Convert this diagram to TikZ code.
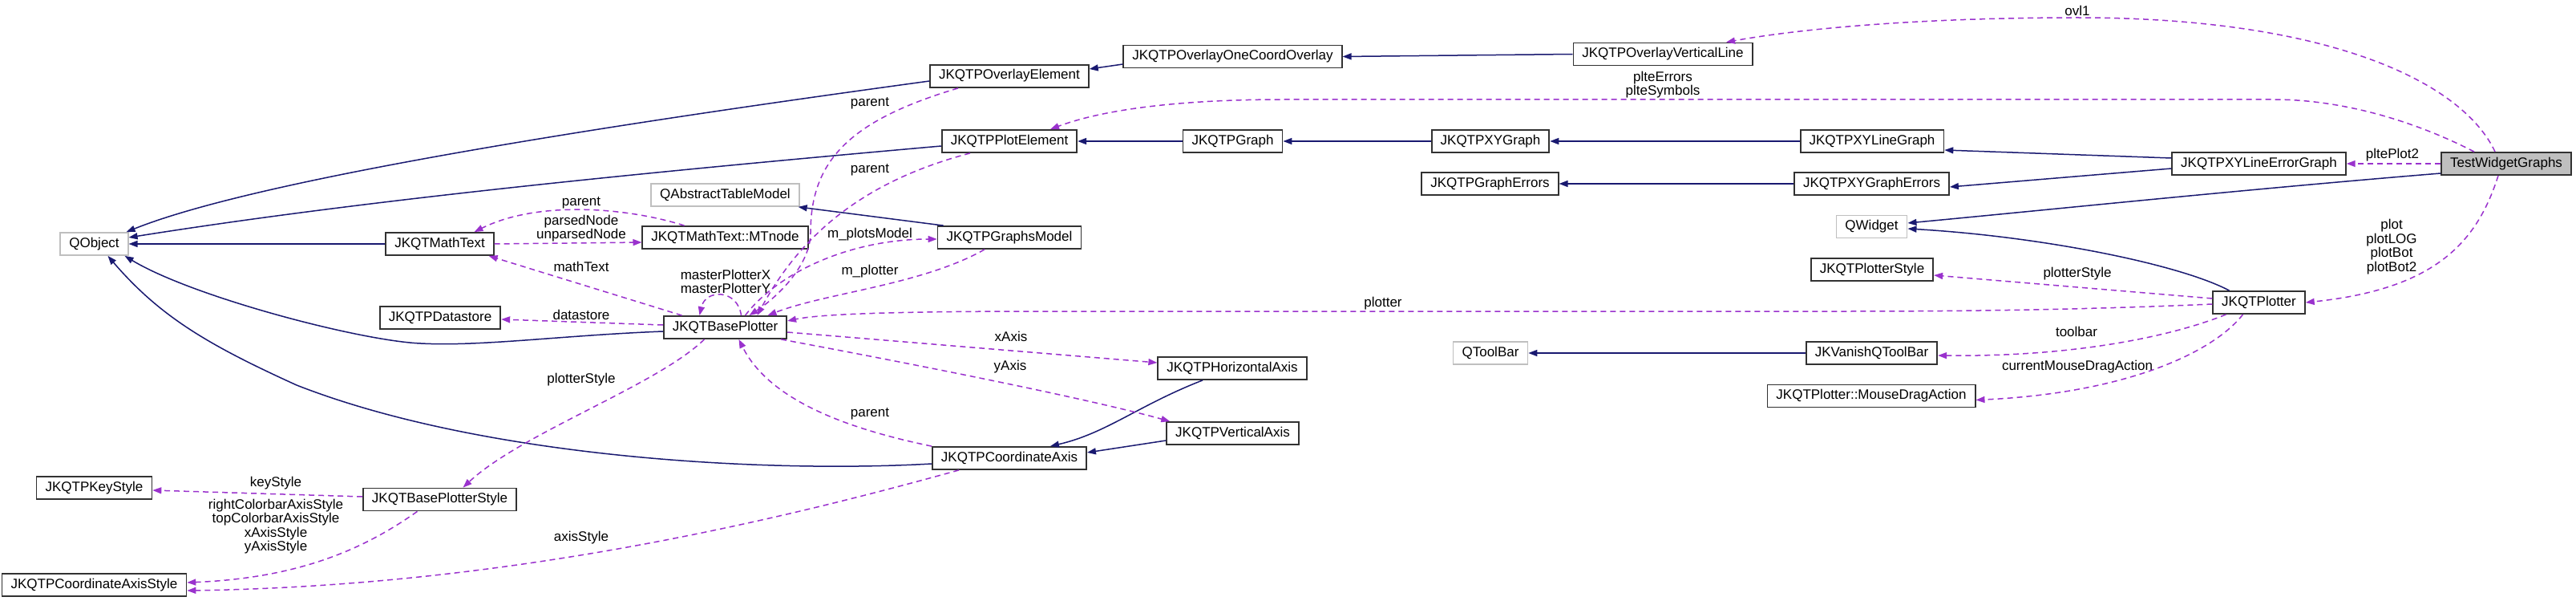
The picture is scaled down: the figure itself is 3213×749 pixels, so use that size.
\documentclass[tikz,border=0pt]{standalone}
\usepackage{fontspec}
\setmainfont{Liberation Sans}
\usetikzlibrary{arrows.meta}
\definecolor{cNavy}{RGB}{25,25,112}
\definecolor{cOrchid}{RGB}{154,50,205}
\definecolor{cFrame}{RGB}{50,50,50}
\definecolor{cPale}{RGB}{191,191,191}
\tikzset{
	cls/.style    ={rectangle, draw=cFrame, line width=1.8pt, fill=white, minimum height=28pt, inner xsep=11pt, inner ysep=0pt, text height=12pt, text depth=4pt},
	extcls/.style ={cls, draw=cPale},
	rootcls/.style={cls, fill=cPale},
	lbl/.style    ={align=center, inner sep=0pt},
	% connector styles
	inh/.style    ={-{Triangle[length=11pt,width=8pt]}, cNavy, line width=1.5pt},
	use/.style    ={-{Triangle[length=11pt,width=8pt]}, cOrchid, line width=1.5pt, dash pattern=on 7pt off 5pt},
}
\begin{document}
\begin{tikzpicture}[x=1pt, y=-1pt, font=\fontsize{17}{17.5}\selectfont]
	\useasboundingbox (0,0) rectangle (3213,749);
	% classes
	\node[extcls] (qobj)    at (117.5,304)  {QObject};
	\node[cls]    (keyst)   at (117.5,608)  {JKQTPKeyStyle};
	\node[cls]    (axst)    at (117.5,729)  {JKQTPCoordinateAxisStyle};
	\node[cls]    (mtext)   at (548.5,304)  {JKQTMathText};
	\node[cls]    (dstore)  at (549,396)    {JKQTPDatastore};
	\node[cls]    (bpstyle) at (548.5,622.5){JKQTBasePlotterStyle};
	\node[extcls] (qatm)    at (904.5,243)  {QAbstractTableModel};
	\node[cls]    (mtnode)  at (904.5,296)  {JKQTMathText::MTnode};
	\node[cls]    (bplot)   at (904.5,408)  {JKQTBasePlotter};
	\node[cls]    (ovel)    at (1259,95)    {JKQTPOverlayElement};
	\node[cls]    (plel)    at (1259,176)   {JKQTPPlotElement};
	\node[cls]    (gmodel)  at (1259,296)   {JKQTPGraphsModel};
	\node[cls]    (caxis)   at (1259,571)   {JKQTPCoordinateAxis};
	\node[cls]    (ovone)   at (1537.5,70.5){JKQTPOverlayOneCoordOverlay};
	\node[cls]    (graph)   at (1537.5,176) {JKQTPGraph};
	\node[cls]    (haxis)   at (1537,459)   {JKQTPHorizontalAxis};
	\node[cls]    (vaxis)   at (1537.5,540) {JKQTPVerticalAxis};
	\node[cls]    (xyg)     at (1859,176)   {JKQTPXYGraph};
	\node[cls]    (gerr)    at (1858.5,229) {JKQTPGraphErrors};
	\node[extcls] (qtb)     at (1859,440)   {QToolBar};
	\node[cls]    (ovvl)    at (2074,67.5)  {JKQTPOverlayVerticalLine};
	\node[cls]    (xylg)    at (2335,176)   {JKQTPXYLineGraph};
	\node[cls]    (xyge)    at (2334.5,229) {JKQTPXYGraphErrors};
	\node[extcls] (qwid)    at (2334.5,282.5){QWidget};
	\node[cls]    (pstyle)  at (2335,336)   {JKQTPlotterStyle};
	\node[cls]    (vtb)     at (2334.5,440) {JKVanishQToolBar};
	\node[cls]    (mda)     at (2334,493.5) {JKQTPlotter::MouseDragAction};
	\node[cls]    (xyleg)   at (2817.5,204) {JKQTPXYLineErrorGraph};
	\node[cls]    (plotter) at (2817.5,377) {JKQTPlotter};
	\node[rootcls](tw)      at (3126,204)   {TestWidgetGraphs};

	% inheritance
	\draw[inh] ([yshift=-6pt]ovel.west) .. controls (800,150) and (330,220) .. ([xshift=-3pt]qobj.north east);
	\draw[inh] ([yshift=-6pt]plel.west) .. controls (800,215) and (450,250) .. ([yshift=8pt]qobj.east);
	\draw[inh] (mtext.west) -- (qobj.east);
	\draw[inh] ([yshift=-5pt]bplot.west) .. controls (700,418) and (600,432) .. (525,428) .. controls (450,425) and (240,370) .. ([xshift=-5pt]qobj.south east);
	\draw[inh] ([yshift=-7pt]caxis.west) .. controls (950,590) and (600,570) .. (370,480) .. controls (260,430) and (200,395) .. ([xshift=17pt]qobj.south);
	\draw[inh] ([yshift=-9.5pt]ovone.west) -- ([yshift=9pt]ovel.east);
	\draw[inh] (ovvl.west) -- (ovone.east);
	\draw[inh] (graph.west) -- (plel.east);
	\draw[inh] (xyg.west) -- (graph.east);
	\draw[inh] (xylg.west) -- (xyg.east);
	\draw[inh] (xyge.west) -- (gerr.east);
	\draw[inh] ([yshift=7pt]xyleg.west) -- ([yshift=-11pt]xylg.east);
	\draw[inh] ([yshift=-6pt]xyleg.west) -- ([yshift=-4pt]xyge.east);
	\draw[inh] ([yshift=-12pt]tw.west) .. controls (2800,236) and (2550,262) .. ([yshift=4.5pt]qwid.east);
	\draw[inh] ([xshift=-37pt]plotter.north) .. controls (2720,330) and (2550,295) .. ([yshift=-2.5pt]qwid.east);
	\draw[inh] ([xshift=8pt]gmodel.north west) -- ([xshift=-2pt]qatm.south east);
	\draw[inh] (vtb.west) -- (qtb.east);
	\draw[inh] ([xshift=-37pt]haxis.south) .. controls (1420,505) and (1380,540) .. ([xshift=51pt]caxis.north);
	\draw[inh] ([yshift=-9pt]vaxis.west) -- ([yshift=7pt]caxis.east);

	% usage
	\draw[use] ([xshift=-14pt]tw.north) .. controls (3070,100) and (2900,22) .. (2591,22) .. controls (2400,22) and (2250,35) .. ([xshift=79pt]ovvl.north);
	\draw[use] ([xshift=-40pt]tw.north) .. controls (3010,150) and (2920,124) .. (2836,124) -- (1600,124) .. controls (1480,124) and (1380,135) .. ([xshift=51pt]plel.north);
	\draw[use] (tw.west) -- (xyleg.east);
	\draw[use] ([xshift=-10pt]tw.south) .. controls (3090,300) and (3040,360) .. (plotter.east);
	\draw[use] ([yshift=5pt]plotter.west) -- ([yshift=-7pt]pstyle.east);
	\draw[use] ([yshift=-2pt]plotter.west) .. controls (2600,386) and (2450,388) .. (2300,388) -- (1300,388) .. controls (1100,388) and (1020,392) .. ([yshift=8pt]bplot.east);
	\draw[use] ([xshift=-41pt]plotter.south) .. controls (2720,415) and (2600,445) .. ([yshift=-3pt]vtb.east);
	\draw[use] ([xshift=-20pt]plotter.south) .. controls (2760,440) and (2650,490) .. ([yshift=-5pt]mda.east);
	\draw[use] ([xshift=-64pt]ovel.south) .. controls (1060,150) and (1011,200) .. (1011,290) .. controls (1011,330) and (970,370) .. ([xshift=30pt]bplot.north);
	\draw[use] ([xshift=-49pt]plel.south) .. controls (1080,225) and (1000,290) .. ([xshift=40pt]bplot.north);
	\draw[use] ([xshift=-31pt]gmodel.south) .. controls (1150,355) and (1030,365) .. ([xshift=53pt]bplot.north);
	\draw[use] ([xshift=25pt]bplot.north) .. controls (970,340) and (1060,298) .. ([yshift=-2pt]gmodel.west);
	\draw[use] ([xshift=20pt]bplot.north) .. controls (920,360) and (880,360) .. ([xshift=-32pt]bplot.north);
	\draw[use] ([xshift=-54pt]bplot.north) -- ([xshift=-7pt]mtext.south east);
	\draw[use] ([yshift=3pt]bplot.west) -- ([yshift=-2pt]dstore.east);
	\draw[use] (mtext.east) -- ([yshift=-6pt]mtnode.west);
	\draw[use] ([xshift=-51pt]mtnode.north) .. controls (780,258) and (670,250) .. ([xshift=43pt]mtext.north);
	\draw[use] ([yshift=-6pt]bplot.east) -- ([yshift=7pt]haxis.west);
	\draw[use] ([xshift=-8pt]bplot.south east) .. controls (1120,450) and (1350,495) .. ([xshift=5pt]vaxis.north west);
	\draw[use] (caxis.north west) .. controls (1060,535) and (960,500) .. ([xshift=17pt]bplot.south);
	\draw[use] ([xshift=-26pt]bplot.south) .. controls (820,480) and (650,540) .. ([xshift=29pt]bpstyle.north);
	\draw[use] ([yshift=3.5pt]bpstyle.west) -- ([yshift=-3pt]keyst.east);
	\draw[use] ([xshift=-28pt]bpstyle.south) .. controls (460,680) and (380,720) .. ([yshift=3pt]axst.east);
	\draw[use] ([xshift=-63pt]caxis.south) .. controls (1000,640) and (650,730) .. ([yshift=-7pt]axst.east);

	% labels
	\node[lbl] (l-ovl)    at (2591,13)    {ovl1};
	\node[lbl] (l-plte)   at (2074,105.5) {plteErrors\\plteSymbols};
	\node[lbl] (l-plot2)  at (2984,193)   {pltePlot2};
	\node[lbl] (l-plot)   at (2983,307.5) {plot\\plotLOG\\plotBot\\plotBot2};
	\node[lbl] (l-pstyle) at (2591,341)   {plotterStyle};
	\node[lbl] (l-plotter)at (1725,378)   {plotter};
	\node[lbl] (l-tb)     at (2590,413)   {toolbar};
	\node[lbl] (l-mda)    at (2591,457)   {currentMouseDragAction};
	\node[lbl] (l-par1)   at (1085,129)   {parent};
	\node[lbl] (l-par2)   at (1085,212)   {parent};
	\node[lbl] (l-model)  at (1085,292)   {m\_plotsModel};
	\node[lbl] (l-mplot)  at (1085,338)   {m\_plotter};
	\node[lbl] (l-master) at (905,351)    {masterPlotterX\\masterPlotterY};
	\node[lbl] (l-mtext)  at (725,332)    {mathText};
	\node[lbl] (l-dstore) at (725,392)    {datastore};
	\node[lbl] (l-node)   at (725,284.5)  {parsedNode\\unparsedNode};
	\node[lbl] (l-par3)   at (725,253)    {parent};
	\node[lbl] (l-xaxis)  at (1261,419)   {xAxis};
	\node[lbl] (l-yaxis)  at (1260,457)   {yAxis};
	\node[lbl] (l-par4)   at (1085,516)   {parent};
	\node[lbl] (l-bpst)   at (725,473)    {plotterStyle};
	\node[lbl] (l-key)    at (344,602)    {keyStyle};
	\node[lbl] (l-axst)   at (344,656)    {rightColorbarAxisStyle\\topColorbarAxisStyle\\xAxisStyle\\yAxisStyle};
	\node[lbl] (l-axis)   at (725,670)    {axisStyle};
\end{tikzpicture}
\end{document}
